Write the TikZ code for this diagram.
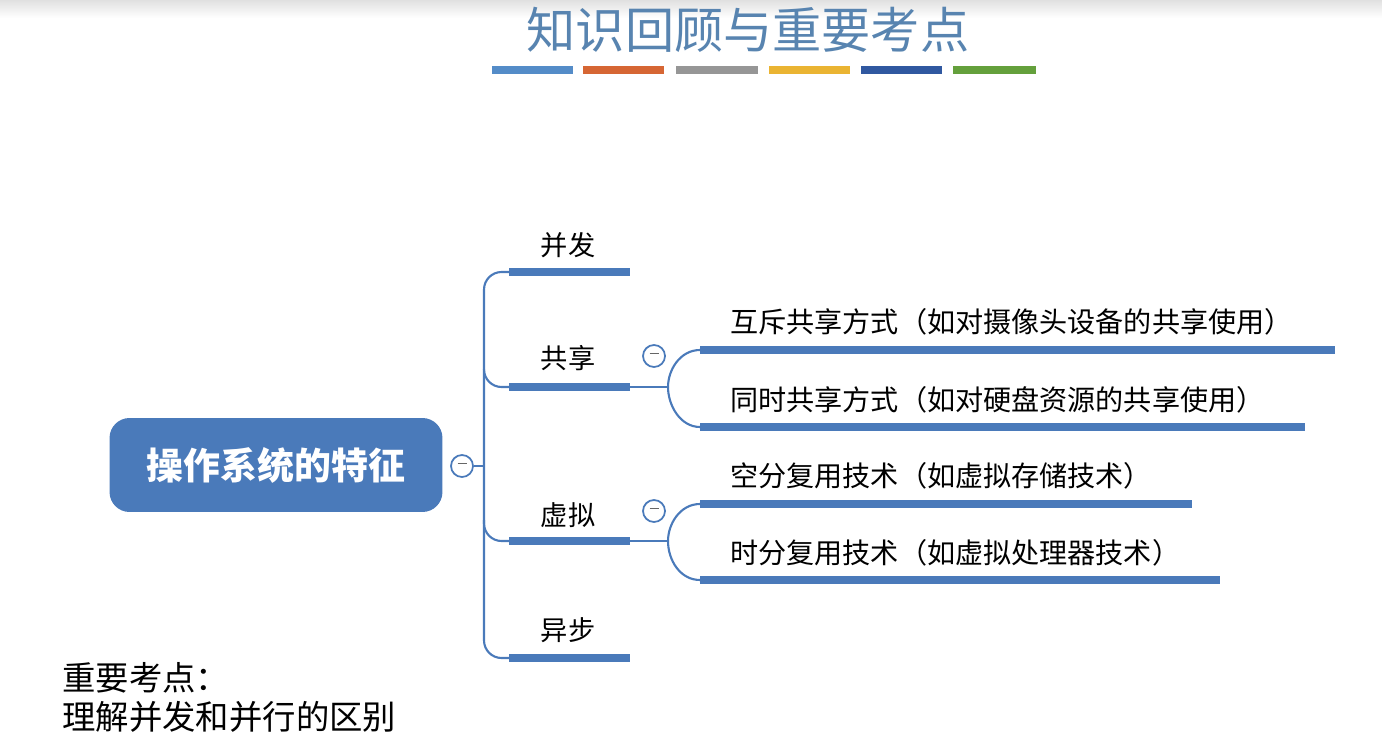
\documentclass[tikz,border=0pt]{standalone}
\usepackage{fontspec}
\setmainfont{Noto Sans CJK SC}
\usetikzlibrary{positioning}
\definecolor{mapblue}{RGB}{74,122,186}
\definecolor{titleblue}{RGB}{88,132,176}
\definecolor{barA}{RGB}{84,140,200}
\definecolor{barB}{RGB}{214,102,52}
\definecolor{barC}{RGB}{150,150,150}
\definecolor{barD}{RGB}{234,180,50}
\definecolor{barE}{RGB}{48,88,160}
\definecolor{barF}{RGB}{100,160,60}
\tikzset{
  bar/.style={line width=5pt, draw=mapblue},
  thin/.style={line width=1.2pt, draw=mapblue},
  branch/.style={font=\fontsize{15.5}{18}\selectfont, text=black, inner sep=0pt},
  sub/.style={font=\fontsize{16}{19}\selectfont, text=black, anchor=west, inner sep=0pt},
  fold/.style={circle, draw=mapblue, line width=1pt, minimum size=0.44cm, inner sep=0pt, fill=white},
}
\newcommand{\foldmark}{\textcolor{black!60}{\rule[0.5ex]{0.18cm}{0.9pt}}}
\begin{document}
\begin{tikzpicture}[x=0.02cm, y=-0.02cm]
  \useasboundingbox (0,0) rectangle (1382,753);
  \shade[top color=black!12, bottom color=white] (0,0) rectangle (1382,18);

  % title and colour bars
  \node[font=\fontsize{28}{32}\selectfont, text=titleblue] (title) at (748,30) {知识回顾与重要考点};
  \foreach \a/\b/\c in {492/573/barA, 583/664/barB, 676/758/barC, 769/850/barD, 861/942/barE, 953/1036/barF}
    \draw[\c, line width=5pt] (\a,70) -- (\b,70);

  % root
  \node[fill=mapblue, rounded corners=0.4cm, minimum width=6.66cm, minimum height=1.88cm,
        text=white, font=\fontsize{21}{24}\selectfont\bfseries] (root) at (276,465) {操作系统的特征};
  \node[fold] (f0) at (462,466) {\foldmark};
  \draw[thin] (f0.east) -- (484,466);

  % trunk
  \draw[thin, rounded corners=10pt] (509,272) -- (484,272) -- (484,658) -- (509,658);
  \draw[thin, rounded corners=10pt] (484,370) |- (509,387);
  \draw[thin, rounded corners=10pt] (484,520) |- (509,541);
  \foreach \y in {272,387,541,658}
    \draw[bar] (509,\y) -- (630,\y);

  \node[branch] (bf) at (568,245) {并发};
  \node[branch] (gx) at (568,358) {共享};
  \node[branch] (xn) at (568,515) {虚拟};
  \node[branch] (yb) at (568,630) {异步};

  \node[fold] (f1) at (654,356) {\foldmark};
  \node[fold] (f2) at (654,511) {\foldmark};

  % sub branches
  \draw[thin] (630,387) -- (668,387);
  \draw[thin] (700,350) .. controls (680,350) and (668,370) .. (668,387)
                        .. controls (668,405) and (680,427) .. (700,427);
  \draw[thin] (630,541) -- (668,541);
  \draw[thin] (700,504) .. controls (680,504) and (668,524) .. (668,541)
                        .. controls (668,560) and (680,580) .. (700,580);
  \draw[bar] (700,350) -- (1335,350);
  \draw[bar] (700,427) -- (1305,427);
  \draw[bar] (700,504) -- (1192,504);
  \draw[bar] (700,580) -- (1220,580);

  \node[sub] (s1) at (730,322) {互斥共享方式（如对摄像头设备的共享使用）};
  \node[sub] (s2) at (730,400) {同时共享方式（如对硬盘资源的共享使用）};
  \node[sub] (s3) at (730,476) {空分复用技术（如虚拟存储技术）};
  \node[sub] (s4) at (730,553) {时分复用技术（如虚拟处理器技术）};

  % note
  \node[sub, font=\fontsize{19}{22}\selectfont] (n1) at (62,678) {重要考点：};
  \node[sub, font=\fontsize{19}{22}\selectfont] (n2) at (62,717) {理解并发和并行的区别};
\end{tikzpicture}
\end{document}
